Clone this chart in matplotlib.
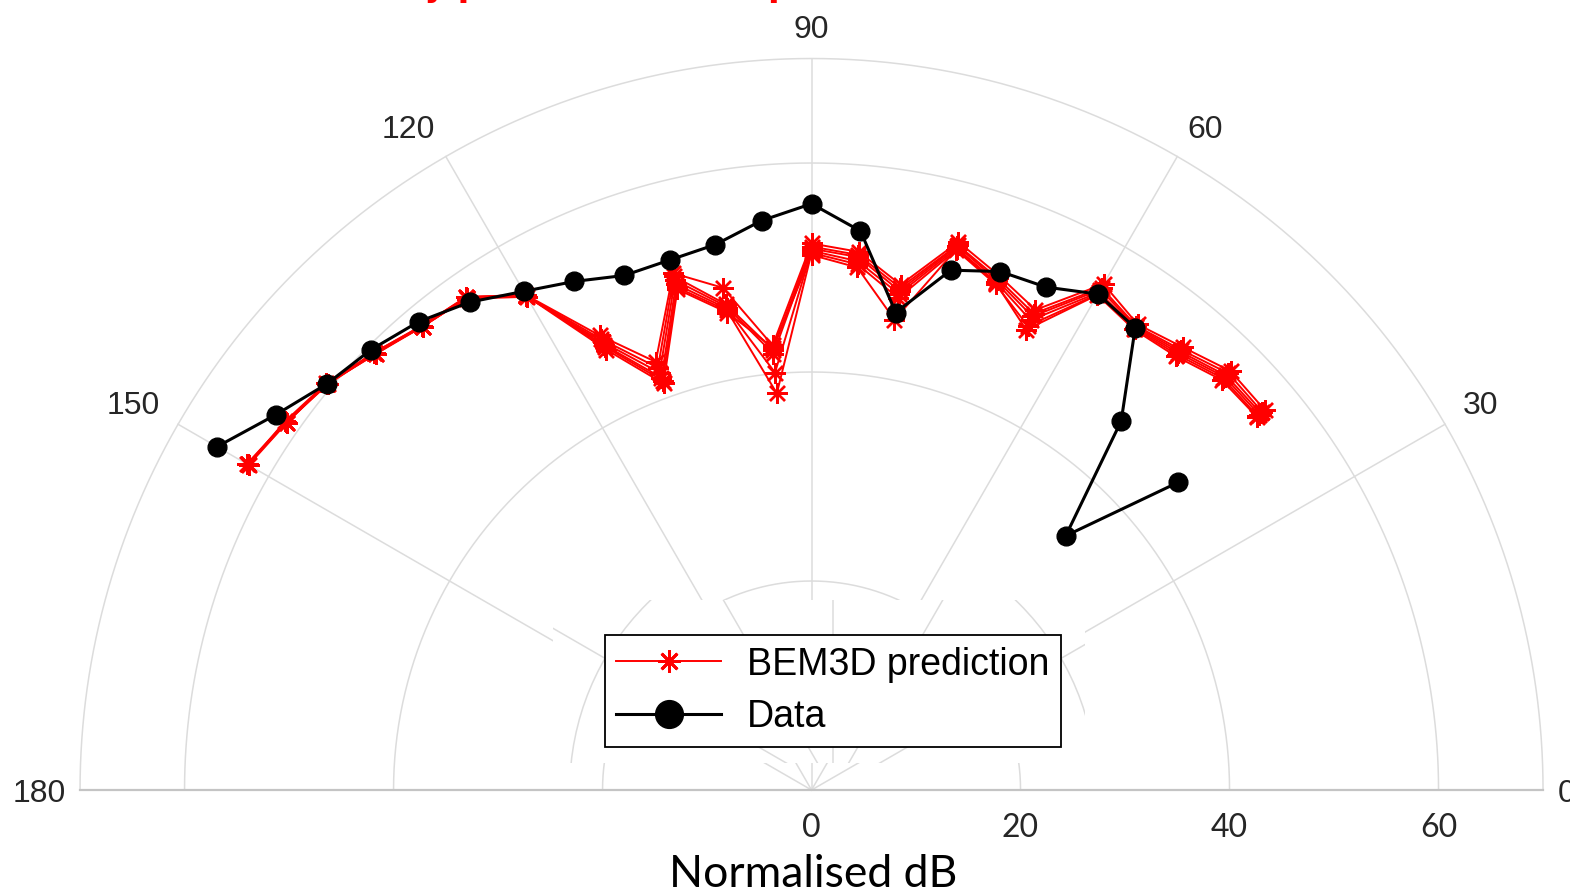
import numpy as np
import matplotlib.pyplot as plt
from matplotlib.patches import Rectangle, Circle

# Polar angles (deg) of the measurement / prediction points
theta_deg = [150, 145, 140, 135, 130, 125, 120, 115, 110, 105, 100, 95,
             90, 85, 80, 75, 70, 65, 60, 55, 50, 45, 40]

# Measured levels (normalised dB, offset so the plot origin is 0)
data_db = [65.7, 62.6, 60.5, 59.6, 58.5, 57.0, 55.1, 53.7, 52.4, 52.5, 53.0, 54.7,
           56.1, 53.7, 46.4, 51.5, 52.8, 53.1, 54.8, 54.0, 46.1, 34.4, 45.8]

# BEM3D predictions, one run per list
bem_run1 = [62.3, 61.4, 60.5, 59.2, 58.0, 57.6, 54.7, 48.0, 43.6, 51.2, 48.8, 42.7,
            52.3, 51.7, 49.1, 54.3, 52.4, 50.7, 55.9, 54.4, 55.3, 56.7, 56.6]
bem_run2 = [62.3, 61.5, 60.6, 59.1, 57.9, 57.5, 54.6, 47.6, 43.0, 50.9, 47.2, 42.3,
            52.0, 51.4, 48.8, 54.0, 52.1, 50.3, 55.5, 54.2, 55.0, 56.4, 56.3]
bem_run3 = [62.2, 61.3, 60.5, 59.0, 58.0, 57.4, 54.5, 47.3, 42.5, 50.5, 47.0, 41.9,
            51.8, 51.2, 48.5, 53.9, 51.9, 50.0, 55.3, 54.1, 54.8, 56.1, 56.1]
bem_run4 = [62.4, 61.4, 60.4, 59.1, 57.9, 57.5, 54.6, 47.0, 42.0, 50.1, 46.8, 40.1,
            51.6, 50.8, 48.2, 53.7, 51.7, 49.6, 55.0, 54.0, 54.6, 55.9, 55.9]
bem_run5 = [62.3, 61.4, 60.5, 59.2, 58.0, 57.6, 54.7, 46.8, 41.7, 49.8, 46.6, 38.1,
            51.4, 50.5, 47.8, 53.5, 51.5, 49.0, 54.8, 53.9, 54.4, 55.7, 55.7]
bem_run6 = [62.3, 61.3, 60.5, 59.0, 57.9, 57.5, 54.6, 46.5, 41.4, 49.6, 46.4, 42.5,
            51.2, 50.2, 45.7, 53.6, 51.6, 48.6, 54.7, 53.8, 54.2, 55.5, 55.6]

r_ticks = [0, 20, 40, 60]
r_circles = [20, 40, 60]
r_max = 70
theta_ticks = [0, 30, 60, 90, 120, 150, 180]

GRID = '#dcdcdc'
LABEL = '#262626'


def pol2cart(th_deg, r):
    th = np.deg2rad(np.asarray(th_deg, dtype=float))
    r = np.asarray(r, dtype=float)
    return r * np.cos(th), r * np.sin(th)


fig = plt.figure(figsize=(15.7, 8.93), dpi=100)
ax = fig.add_axes([0, 0, 1, 1])
ax.set_xlim(-77.66, 72.58)
ax.set_ylim(-9.856, 75.60)
ax.axis('off')

# grid: circles, spokes and the base line
arc = np.linspace(0, 180, 361)
for rc in r_circles + [r_max]:
    ax.plot(*pol2cart(arc, np.full_like(arc, rc)), color=GRID, lw=1.1, zorder=1)
for t in theta_ticks[1:-1]:
    ax.plot(*pol2cart([t, t], [0, r_max]), color=GRID, lw=1.1, zorder=1)
ax.plot([-r_max, r_max], [0, 0], color='#c4c4c4', lw=1.6, zorder=1.2)

# white patch behind the legend with its own copy of the grid
band = Rectangle((-24.74, 2.58), 50.91, 15.6, facecolor='white',
                 edgecolor='none', zorder=1.5)
ax.add_patch(band)
band_cx = 2.06
for t in theta_ticks[1:-1]:
    bx, by = pol2cart([t, t], [0, r_max])
    ln, = ax.plot(bx + band_cx, by, color=GRID, lw=1.1, zorder=1.6)
    ln.set_clip_path(band)
ring = Circle((band_cx, 0), 25.2, facecolor='none', edgecolor=GRID, lw=1.1, zorder=1.6)
ax.add_patch(ring)
ring.set_clip_path(band)

# angle labels
align = {0: ('left', 'center_baseline', 71.4), 30: ('left', 'baseline', 72.0),
         60: ('left', 'baseline', 72.0), 90: ('center', 'baseline', 72.0),
         120: ('right', 'baseline', 72.0), 150: ('right', 'baseline', 72.0),
         180: ('right', 'center_baseline', 71.4)}
for t in theta_ticks:
    ha, va, lr = align[t]
    lx, ly = pol2cart(t, lr)
    ax.text(lx, ly, str(t), ha=ha, va=va, fontsize=23, color=LABEL,
            family='Liberation Sans')

# radial labels and axis title
for rt in r_ticks:
    ax.text(rt, -3.6, str(rt), ha='center', va='center', fontsize=23,
            color=LABEL, family='Lato')
ax.text(0.2, -6.1, 'Normalised dB', ha='center', va='top', fontsize=32,
        color='black', family='Lato')

# predictions
asterisk = (8, 2, 0)
for i, run in enumerate([bem_run1, bem_run2, bem_run3, bem_run4, bem_run5, bem_run6]):
    ax.plot(*pol2cart(theta_deg, run), color='red', lw=1.4, marker=asterisk,
            markersize=15, markeredgewidth=1.7, zorder=3,
            label='BEM3D prediction' if i == 0 else None)

# measurements
ax.plot(*pol2cart(theta_deg, data_db), color='black', lw=2.2, marker='o',
        markersize=13.5, zorder=4, label='Data')

leg = ax.legend(loc='center', bbox_to_anchor=(0.5305, 0.2262),
                bbox_transform=fig.transFigure, fancybox=False, framealpha=1,
                edgecolor='black', prop={'family': 'Liberation Sans', 'size': 27},
                handlelength=2.8, handletextpad=0.7, labelspacing=0.45,
                borderpad=0.3, borderaxespad=0)
leg.get_frame().set_linewidth(1.3)
leg.set_zorder(6)
# larger symbols in the key than on the curves
leg_star, leg_dot = leg.legend_handles
leg_star.set_markersize(16)
leg_star.set_markeredgewidth(2.0)
leg_dot.set_markersize(20)

fig.text(0.5, 1 + 4 / 893, 'Directivity pattern: BEM3D prediction vs. measured data',
         ha='center', va='baseline', color='red', fontweight='bold', fontsize=24)

fig.savefig('out.png', dpi=100)
